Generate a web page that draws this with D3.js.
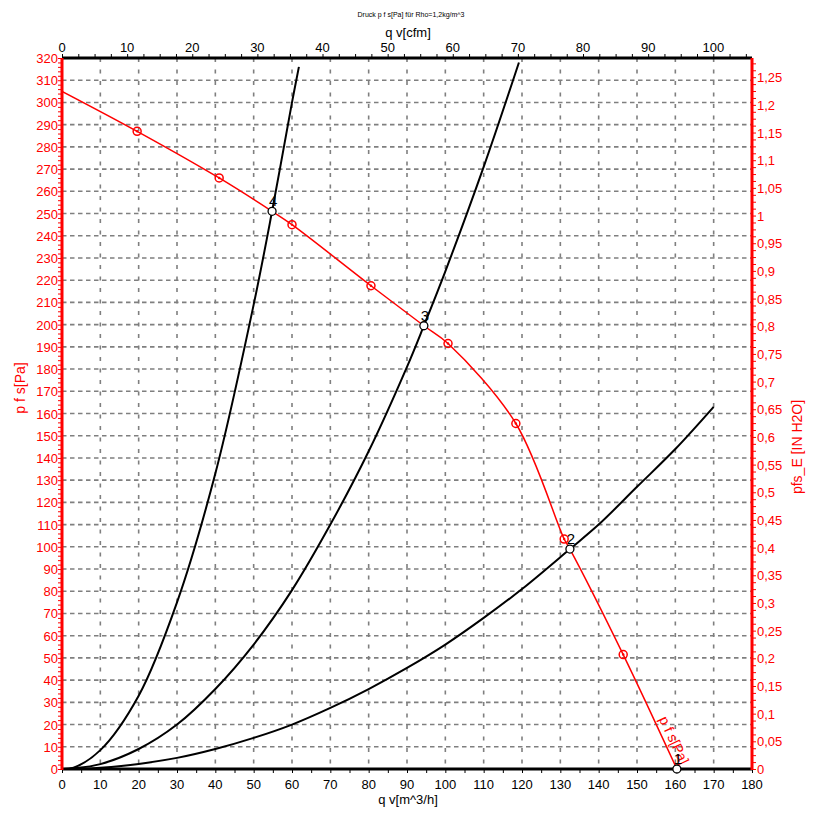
<!DOCTYPE html>
<html>
<head>
<meta charset="utf-8">
<script src="https://cdn.jsdelivr.net/npm/d3@7"></script>
<style>
  body { margin: 0; background: #fff; }
  svg { font-family: "Liberation Sans", Arial, sans-serif; }
</style>
</head>
<body>
<div id="chart"></div>
<script>
// fan curve p_fs over q_v (m^3/h, Pa)
const fanFlow     = [0, 19.6, 41, 54.8, 60, 80.6, 94.4, 100.7, 118.4, 131, 132.5, 146.4, 160.4];
const fanPressure = [305, 287, 266, 251, 245, 217.5, 199.5, 191.5, 155.5, 103.5, 99, 51.5, 0];

// red measurement markers on the fan curve
const markFlow     = [19.6, 41, 60, 80.6, 100.7, 118.4, 131, 146.4];
const markPressure = [287, 266, 245, 217.5, 191.5, 155.5, 103.5, 51.5];

// system curves (black)
const sys4Flow     = [0, 3, 10, 20, 30, 40, 50, 54.8, 60, 61.8];
const sys4Pressure = [0, 0.6, 8.5, 33, 75, 133, 209, 251, 300, 316];
const sys3Flow     = [0, 3, 10, 20, 30, 40, 50, 60, 70, 80, 90, 94.4, 100, 110, 119.2];
const sys3Pressure = [0, 0.3, 2.2, 9, 20, 36, 56, 80.5, 110, 143, 181, 199.5, 224, 271, 318];
const sys2Flow     = [0, 5, 10, 20, 30, 40, 50, 60, 70, 80, 90, 100, 110, 120, 132.5, 140, 150, 160, 170];
const sys2Pressure = [0, 0.1, 0.6, 2.3, 5, 9, 14, 20, 27.5, 36, 45.5, 56, 68, 81, 99, 110, 127, 144, 163];

// operating points
const opLabels   = ["1", "2", "3", "4"];
const opFlow     = [160.4, 132.5, 94.4, 54.8];
const opPressure = [0, 99, 199.5, 251];

// axes
const flowTicks     = d3.range(0, 181, 10);
const pressureTicks = d3.range(0, 321, 10);
const cfmTicks      = d3.range(0, 101, 10);
const inchTicks     = d3.range(0, 1.2501, 0.05);

const W = 832, H = 840;
const plot = {left: 62, right: 752, top: 58, bottom: 769};
const red = "#ff0000";

const svg = d3.select("#chart").append("svg")
    .attr("width", W).attr("height", H);

const x = d3.scaleLinear().domain([0, 180]).range([plot.left, plot.right]);
const y = d3.scaleLinear().domain([0, 320]).range([plot.bottom, plot.top]);
const xCfm = d3.scaleLinear().domain([0, 180 * 0.588578]).range([plot.left, plot.right]);
const yIn = d3.scaleLinear().domain([0, 320 / 249.0889]).range([plot.bottom, plot.top]);

svg.append("clipPath").attr("id", "plotclip")
  .append("rect").attr("x", plot.left).attr("y", plot.top)
    .attr("width", plot.right - plot.left).attr("height", plot.bottom - plot.top);
svg.append("clipPath").attr("id", "labelclip")
  .append("rect").attr("x", plot.left).attr("y", plot.top)
    .attr("width", plot.right - plot.left).attr("height", plot.bottom - plot.top + 4);

// grid
const grid = svg.append("g")
    .attr("stroke", "#7f7f7f").attr("stroke-width", 1.6);
grid.selectAll("line.v").data(flowTicks.filter(d => d > 0 && d < 180))
  .join("line").attr("class", "v")
    .attr("stroke-dasharray", "4,7.5")
    .attr("x1", d => x(d)).attr("x2", d => x(d))
    .attr("y1", plot.top).attr("y2", plot.bottom);
grid.selectAll("line.h").data(pressureTicks.filter(d => d > 0 && d < 320))
  .join("line").attr("class", "h")
    .attr("stroke-dasharray", "4.5,3.5")
    .attr("y1", d => y(d)).attr("y2", d => y(d))
    .attr("x1", plot.left).attr("x2", plot.right);

// bottom axis
const xAxisGroup = svg.append("g").attr("transform", `translate(0,${plot.bottom})`);
xAxisGroup.call(d3.axisBottom(x).tickValues(d3.range(0, 181, 5)).tickSize(4).tickFormat(""));
xAxisGroup.call(g => g.select(".domain").remove());
svg.append("g").attr("font-size", 13).attr("text-anchor", "middle")
  .selectAll("text").data(flowTicks).join("text")
    .attr("x", d => x(d)).attr("y", plot.bottom + 20).text(d => d);

// top axis
const topGroup = svg.append("g").attr("transform", `translate(0,${plot.top})`);
topGroup.call(d3.axisTop(xCfm).tickValues(d3.range(0, 106, 2.5)).tickSize(4).tickFormat(""));
topGroup.call(g => g.select(".domain").remove());
svg.append("g").attr("font-size", 13).attr("text-anchor", "middle")
  .selectAll("text").data(cfmTicks).join("text")
    .attr("x", d => xCfm(d)).attr("y", plot.top - 6).text(d => d);

// left axis (Pa)
const leftGroup = svg.append("g").attr("transform", `translate(${plot.left},0)`);
leftGroup.call(d3.axisLeft(y).tickValues(d3.range(0, 321, 2)).tickSize(4).tickFormat(""));
leftGroup.call(g => g.select(".domain").remove());
leftGroup.selectAll(".tick line").attr("stroke", red);
svg.append("g").attr("font-size", 13).attr("text-anchor", "end").attr("fill", red)
  .selectAll("text").data(pressureTicks).join("text")
    .attr("x", plot.left - 4).attr("y", d => y(d) + 5).text(d => d);

// right axis (in H2O)
const fmtIn = d => String(+d.toFixed(2)).replace(".", ",");
const rightGroup = svg.append("g").attr("transform", `translate(${plot.right},0)`);
rightGroup.call(d3.axisRight(yIn).tickValues(d3.range(0, 1.2801, 0.0125)).tickSize(4).tickFormat(""));
rightGroup.call(g => g.select(".domain").remove());
rightGroup.selectAll(".tick line").attr("stroke", red);
svg.append("g").attr("font-size", 13).attr("text-anchor", "start").attr("fill", red)
  .selectAll("text").data(inchTicks).join("text")
    .attr("x", plot.right + 5).attr("y", d => yIn(d) + 5).text(fmtIn);

// curves
const line = d3.line().x(d => x(d[0])).y(d => y(d[1])).curve(d3.curveCatmullRom.alpha(0.5));
const curves = svg.append("g").attr("clip-path", "url(#plotclip)").attr("fill", "none");
[[sys4Flow, sys4Pressure], [sys3Flow, sys3Pressure], [sys2Flow, sys2Pressure]].forEach(([q, p]) => {
  curves.append("path").datum(q.map((v, i) => [v, p[i]]))
      .attr("d", line).attr("stroke", "#000").attr("stroke-width", 2);
});
curves.append("path").datum(fanFlow.map((v, i) => [v, fanPressure[i]]))
    .attr("d", line).attr("stroke", red).attr("stroke-width", 1.5);

// curve label along the fan line
const a = Math.atan2(y(0) - y(51.5), x(160.4) - x(146.4)) * 180 / Math.PI;
svg.append("g").attr("clip-path", "url(#labelclip)")
  .append("text")
    .attr("transform", `translate(${x(154.5)},${y(21.5)}) rotate(${a})`)
    .attr("dy", -5).attr("font-size", 14).attr("fill", red).text("p f s[Pa]");

// axis frame lines
svg.append("line").attr("x1", plot.left).attr("x2", plot.right).attr("y1", plot.top).attr("y2", plot.top)
    .attr("stroke", "#000").attr("stroke-width", 3);
svg.append("line").attr("x1", plot.left).attr("x2", plot.right).attr("y1", plot.bottom).attr("y2", plot.bottom)
    .attr("stroke", "#000").attr("stroke-width", 3);
svg.append("line").attr("x1", plot.left).attr("x2", plot.left).attr("y1", plot.top).attr("y2", plot.bottom + 1)
    .attr("stroke", red).attr("stroke-width", 3);
svg.append("line").attr("x1", plot.right).attr("x2", plot.right).attr("y1", plot.top).attr("y2", plot.bottom + 1)
    .attr("stroke", red).attr("stroke-width", 3);

// axis titles
svg.append("text").attr("x", 411).attr("y", 17).attr("text-anchor", "middle")
    .attr("font-size", 7).text("Druck p f s[Pa] für Rho=1,2kg/m^3");
svg.append("text").attr("x", 408).attr("y", 37).attr("text-anchor", "middle")
    .attr("font-size", 13).text("q v[cfm]");
svg.append("text").attr("x", 408).attr("y", 804).attr("text-anchor", "middle")
    .attr("font-size", 13).text("q v[m^3/h]");
svg.append("text").attr("transform", "translate(25,388) rotate(-90)")
    .attr("text-anchor", "middle").attr("font-size", 14).attr("fill", red).text("p f s[Pa]");
svg.append("text").attr("transform", "translate(802,447) rotate(-90)")
    .attr("text-anchor", "middle").attr("font-size", 14).attr("fill", red).text("pfs_E [IN H2O]");

// red markers
const marks = svg.append("g");
marks.selectAll("circle.m").data(markFlow).join("circle").attr("class", "m")
    .attr("cx", d => x(d)).attr("cy", (d, i) => y(markPressure[i])).attr("r", 4)
    .attr("fill", "none").attr("stroke", red).attr("stroke-width", 1.5);
marks.selectAll("circle.c").data(markFlow).join("circle").attr("class", "c")
    .attr("cx", d => x(d)).attr("cy", (d, i) => y(markPressure[i])).attr("r", 1.2)
    .attr("fill", red);

// operating points
const ops = svg.append("g");
ops.selectAll("circle").data(opFlow).join("circle")
    .attr("cx", d => x(d)).attr("cy", (d, i) => y(opPressure[i])).attr("r", 4)
    .attr("fill", "#fff").attr("stroke", "#000").attr("stroke-width", 1.3);
ops.selectAll("text").data(opLabels).join("text")
    .attr("x", (d, i) => x(opFlow[i]) + 1).attr("y", (d, i) => y(opPressure[i]) - 5)
    .attr("text-anchor", "middle").attr("font-size", 15).text(d => d);
</script>
</body>
</html>
